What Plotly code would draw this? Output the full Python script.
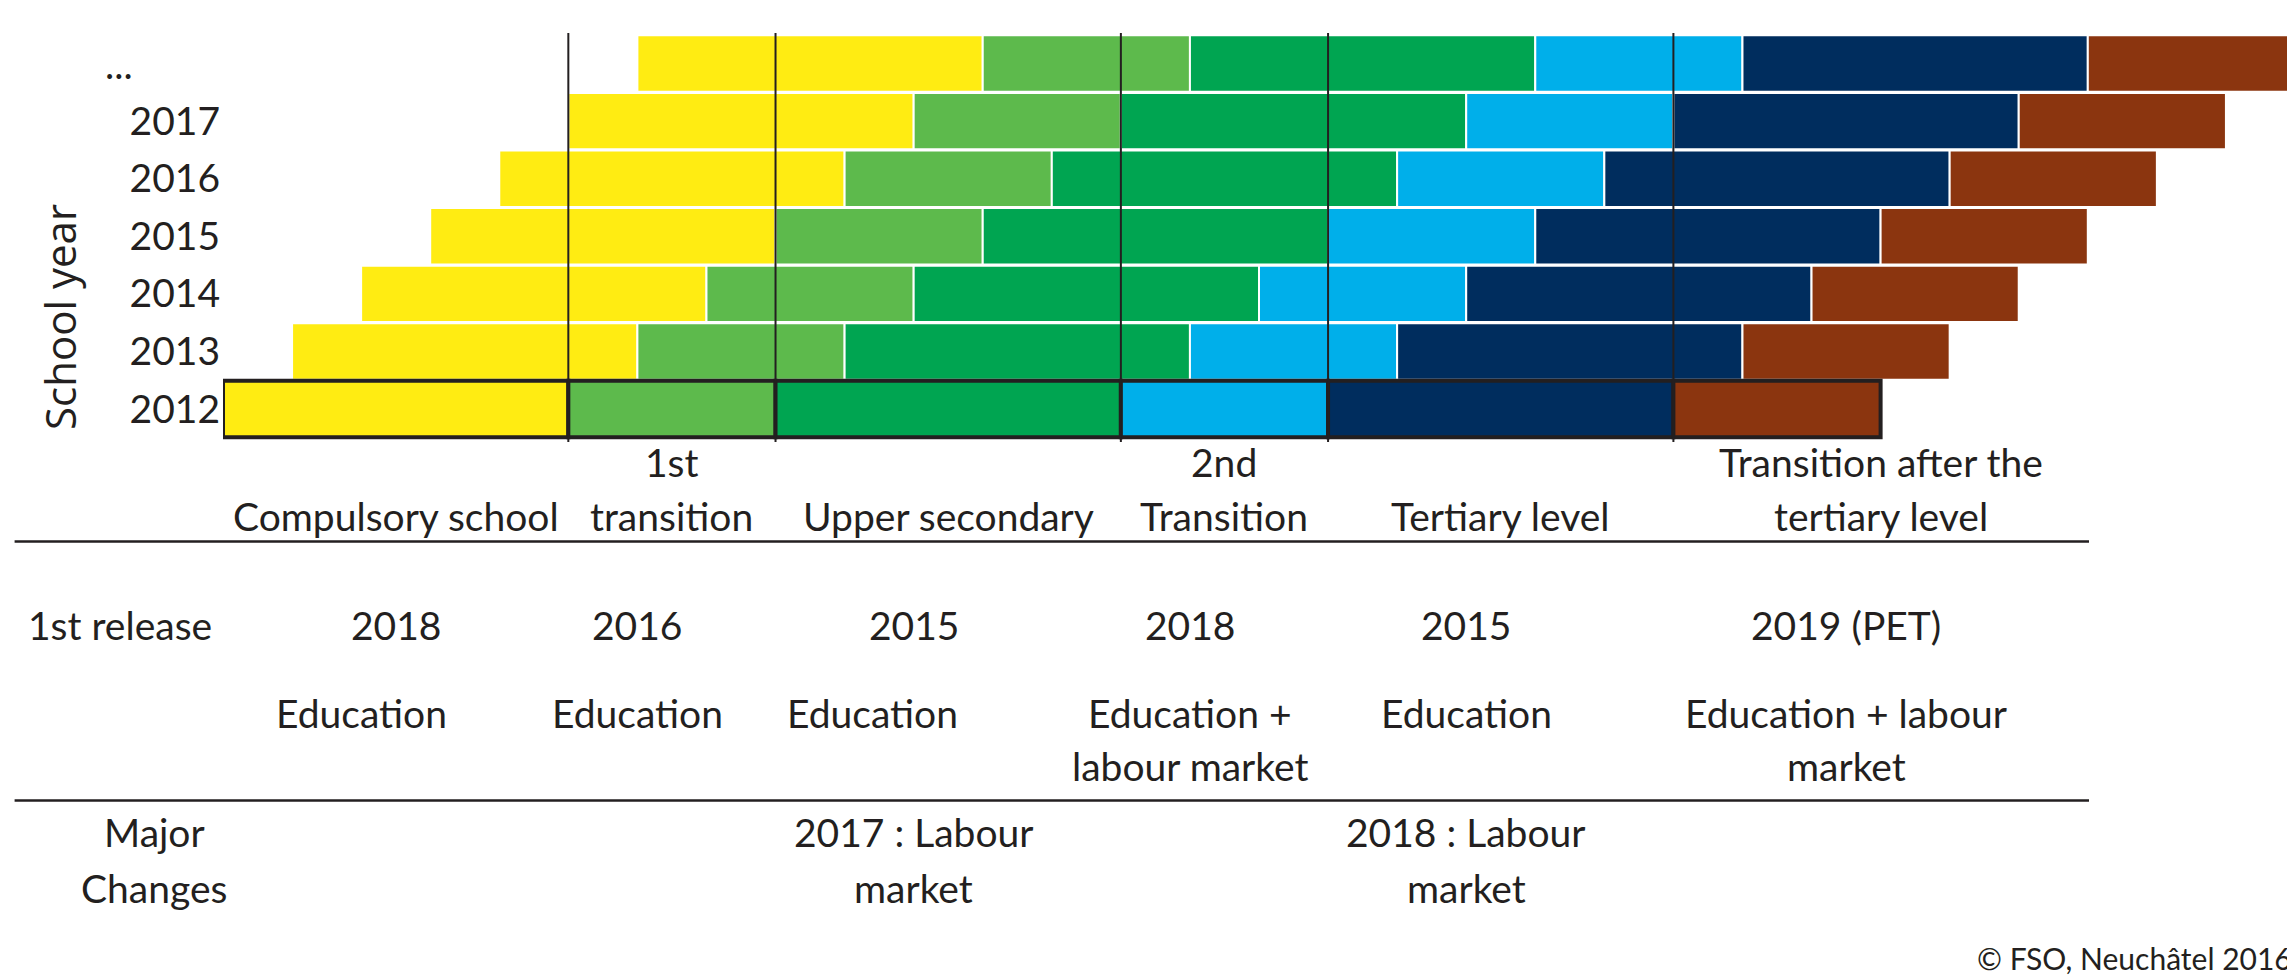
import numpy as np
import plotly.graph_objects as go

# school years (rows, bottom to top) and where each cohort starts (in years)
years = ["2012", "2013", "2014", "2015", "2016", "2017", "..."]
row_start = [0, 1, 2, 3, 4, 5, 6]

# phases of the education path and their length in years
phases = ["Compulsory school", "1st transition", "Upper secondary",
          "2nd Transition", "Tertiary level", "Transition after the tertiary level"]
durations = [5, 3, 5, 3, 5, 3]

# table texts below the chart (one entry per phase, split in lines)
phase_lines = [["Compulsory school"], ["1st", "transition"], ["Upper secondary"],
               ["2nd", "Transition"], ["Tertiary level"], ["Transition after the", "tertiary level"]]
release_year = ["2018", "2016", "2015", "2018", "2015", "2019 (PET)"]
release_content = [["Education"], ["Education"], ["Education"],
                   ["Education +", "labour market"], ["Education"], ["Education + labour", "market"]]
major_changes = [[], [], ["2017 : Labour", "market"], [], ["2018 : Labour", "market"], []]

colors = ["#FFEC12", "#5DBA4C", "#00A551", "#00AFEA", "#002D5E", "#8B350F"]
ink = "#231F20"
FONT = "Lato"
FS = 39

# page body keeps an 8px margin, so the figure is drawn 8px smaller
OFF = 8
W, H = 2295 - OFF, 979 - OFF
ML = 215
unit = (W - ML) / 30.0
row_px = 57.58
y0_px = 409.0   # centre of the 2012 row in the page


def y_of(py):
    return (y0_px - py) / row_px


def px_x(px):      # page px -> paper x
    return (px - OFF - ML) / (W - ML)


def px_y(py):      # page px -> paper y
    return 1 - (py - OFF) / H


starts = np.cumsum([0] + durations[:-1])

fig = go.Figure()

# later cohorts, white separators
for i, ph in enumerate(phases):
    fig.add_trace(go.Bar(
        y=list(range(1, len(years))),
        x=[durations[i]] * (len(years) - 1),
        base=[row_start[r] + starts[i] for r in range(1, len(years))],
        orientation="h", width=0.98,
        marker=dict(color=colors[i], line=dict(color="white", width=2)),
        name=ph, hoverinfo="skip", showlegend=False))

# 2012 cohort, framed in black
for i, ph in enumerate(phases):
    fig.add_trace(go.Bar(
        y=[0], x=[durations[i]], base=[row_start[0] + starts[i]],
        orientation="h", width=0.98,
        marker=dict(color=colors[i], line=dict(color=ink, width=4)),
        name=ph, hoverinfo="skip", showlegend=False))

# vertical phase boundaries
for b in starts[1:]:
    fig.add_shape(type="line", xref="x", yref="y", x0=b, x1=b,
                  y0=y_of(442), y1=y_of(33), line=dict(color=ink, width=2))

# table rules
for py in [541.6, 800.6]:
    fig.add_shape(type="line", xref="paper", yref="paper", x0=px_x(14.6), x1=px_x(2089),
                  y0=px_y(py), y1=px_y(py), line=dict(color=ink, width=2.5))

ann = []


def txt(x, py, s, size=FS, anchor="center", fam=FONT, angle=0):
    ann.append(dict(x=x, y=px_y(py), xref="paper", yref="paper", text=s, showarrow=False,
                    xanchor=anchor, yanchor="middle", textangle=angle,
                    font=dict(family=fam, size=size, color=ink)))


# column centres in years along the x axis
label_x = [2.5, 6.5, 10.5, 14.5, 18.5, 24.0]
release_x = [2.5, 6.0, 10.0, 14.0, 18.0, 23.5]
content_x = [2.0, 6.0, 9.4, 14.0, 18.0, 23.5]
major_x = [None, None, 10.0, None, 18.0, None]

for i in range(len(phases)):
    lines = phase_lines[i]
    ys = [462, 516] if len(lines) == 2 else [516]
    for s, py in zip(lines, ys):
        txt(label_x[i] / 30, py, s)
    txt(release_x[i] / 30, 625, release_year[i])
    for s, py in zip(release_content[i], [713, 766]):
        txt(content_x[i] / 30, py, s)
    for s, py in zip(major_changes[i], [832, 888]):
        txt(major_x[i] / 30, py, s)

txt(px_x(120), 625, "1st release")
txt(px_x(154), 832, "Major")
txt(px_x(154), 888, "Changes")
txt(px_x(119), y0_px - 6 * row_px, "...")
txt(px_x(2294), 958, "© FSO, Neuchâtel 2016", size=30, anchor="right")
txt(px_x(59), 317, "School year", size=42, fam="Open Sans", angle=-90)

fig.update_layout(
    width=W, height=H,
    margin=dict(l=ML, r=0, t=0, b=0),
    paper_bgcolor="white", plot_bgcolor="white",
    barmode="overlay",
    annotations=ann,
    xaxis=dict(range=[0, 30], visible=False, fixedrange=True),
    yaxis=dict(range=[y_of(979), y_of(OFF)], tickvals=list(range(6)), ticktext=years[:6],
               showgrid=False, zeroline=False, showline=False, ticks="",
               ticklabelstandoff=2, tickfont=dict(family=FONT, size=FS, color=ink),
               fixedrange=True),
)

fig.write_html("out.html")
